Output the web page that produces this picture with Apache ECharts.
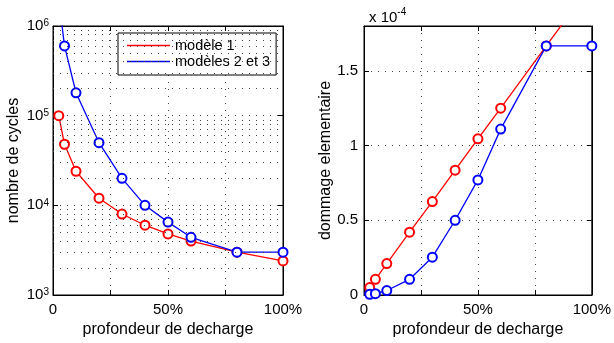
<!DOCTYPE html>
<html>
<head>
<meta charset="utf-8">
<script src="https://cdn.jsdelivr.net/npm/echarts@6/dist/echarts.min.js"></script>
<style>
html,body{margin:0;padding:0;background:#fff;}
#chart{width:614px;height:343px;}
</style>
</head>
<body>
<div id="chart"></div>
<script>
// ---- data ----
var depth = [2.5, 5, 10, 20, 30, 40, 50, 60, 80, 100];           // profondeur de decharge (%)
var cyclesModel1 = [100000, 48000, 24000, 12000, 8000, 6000, 4800, 4000, 3000, 2400];
var cyclesModel23 = [2000000, 600000, 180000, 50000, 20000, 10000, 6500, 4400, 3000, 3000];
var damageModel1 = [0.05, 0.105, 0.21, 0.42, 0.625, 0.835, 1.045, 1.25, 1.667, 2.08];   // x 1e-4
var damageModel23 = [0.005, 0.009, 0.03, 0.105, 0.253, 0.5, 0.77, 1.11, 1.667, 1.667]; // x 1e-4
var seriesNames = ['modèle 1', 'modèles 2 et 3'];
var xTickLabels = {0: '0', 50: '50%', 100: '100%'};
var logMinorTicks = [2000,3000,4000,5000,6000,7000,8000,9000,
                     20000,30000,40000,50000,60000,70000,80000,90000,
                     200000,300000,400000,500000,600000,700000,800000,900000];
var damageTicks = ['0', '0.5', '1', '1.5'];

var FONT = '"Liberation Sans", Arial, Helvetica, sans-serif';
var RED = '#ff0000', BLUE = '#0000ff';
var gridDot = {type: [1, 6], color: '#444', width: 1};

function pairs(xs, ys) { return xs.map(function (x, i) { return [x, ys[i]]; }); }

function xAxisBase(gi, pos, showLabel) {
  return {
    type: 'value', gridIndex: gi, position: pos, min: 0, max: 100, interval: 25,
    axisLine: {show: true, onZero: false, lineStyle: {color: '#000', width: 1}},
    axisTick: {show: true, inside: true, length: 5, lineStyle: {color: '#000'}},
    axisLabel: {
      show: showLabel, margin: 7, fontSize: 15, color: '#000', fontFamily: FONT,
      formatter: function (v) { return xTickLabels[v] !== undefined ? xTickLabels[v] : ''; }
    },
    splitLine: {show: showLabel, lineStyle: gridDot},
    name: showLabel ? 'profondeur de decharge' : '',
    nameLocation: 'middle', nameGap: 22,
    nameTextStyle: {fontSize: 16, color: '#000', fontFamily: FONT}
  };
}

var supRich = {
  b: {fontSize: 15, color: '#000', fontFamily: FONT, lineHeight: 15, padding: [7, 0, 7, 0]},
  e: {fontSize: 10, color: '#000', fontFamily: FONT, lineHeight: 10, verticalAlign: 'top'}
};

function logYAxis(pos, showLabel) {
  return {
    type: 'log', logBase: 10, gridIndex: 0, position: pos, min: 1000, max: 1000000,
    axisLine: {show: true, onZero: false, lineStyle: {color: '#000', width: 1}},
    axisTick: {show: true, inside: true, length: 5, lineStyle: {color: '#000'}},
    axisLabel: {
      show: showLabel, margin: 4, align: 'right',
      formatter: function (v) {
        var e = Math.round(Math.log(v) / Math.LN10);
        return '{b|10}{e|' + e + '}';
      },
      rich: supRich
    },
    splitLine: {show: showLabel, lineStyle: gridDot},
    name: showLabel ? 'nombre de cycles' : '',
    nameLocation: 'middle', nameGap: 31,
    nameTextStyle: {fontSize: 16, color: '#000', fontFamily: FONT}
  };
}

function linYAxis(pos, showLabel) {
  return {
    type: 'value', gridIndex: 1, position: pos, min: 0, max: 1.8, interval: 0.5,
    axisLine: {show: true, onZero: false, lineStyle: {color: '#000', width: 1}},
    axisTick: {show: true, inside: true, length: 5, lineStyle: {color: '#000'}},
    axisLabel: {
      show: showLabel, margin: 6, fontSize: 15, color: '#000', fontFamily: FONT,
      formatter: function (v) { return damageTicks[Math.round(v / 0.5)] || ''; }
    },
    splitLine: {show: showLabel, lineStyle: gridDot},
    name: showLabel ? 'dommage elementaire' : '',
    nameLocation: 'middle', nameGap: 30,
    nameTextStyle: {fontSize: 16, color: '#000', fontFamily: FONT}
  };
}

function lineSeries(name, color, xi, yi, data, extra) {
  var s = {
    name: name, type: 'line', xAxisIndex: xi, yAxisIndex: yi, data: data,
    symbol: 'emptyCircle', symbolSize: 9, clip: true,
    lineStyle: {color: color, width: 1.3},
    itemStyle: {color: color, borderColor: color, borderWidth: 1.3},
    emphasis: {disabled: true}
  };
  if (extra) for (var k in extra) s[k] = extra[k];
  return s;
}

var chart = echarts.init(document.getElementById('chart'), null, {renderer: 'canvas'});
chart.setOption({
  animation: false,
  backgroundColor: '#fff',
  textStyle: {fontFamily: FONT},
  title: {
    text: '{a|x 10}{e|-4}', left: 364, top: 2,
    textStyle: {
      fontWeight: 'normal',
      rich: {
        a: {fontSize: 15, fontWeight: 'normal', color: '#000', fontFamily: FONT, lineHeight: 15, padding: [7, 0, 0, 0]},
        e: {fontSize: 10, fontWeight: 'normal', color: '#000', fontFamily: FONT, lineHeight: 10, verticalAlign: 'top'}
      }
    }
  },
  grid: [
    {left: 53, top: 26, width: 230, height: 269, show: true, borderColor: '#000', borderWidth: 1, backgroundColor: '#fff', containLabel: false},
    {left: 364, top: 26, width: 231, height: 269, show: true, borderColor: '#000', borderWidth: 1, backgroundColor: '#fff', containLabel: false}
  ],
  legend: {
    data: seriesNames, left: 118, top: 33, orient: 'vertical',
    backgroundColor: '#fff', borderColor: '#000', borderWidth: 1,
    padding: [5, 6, 6, 9], itemGap: 1, itemWidth: 43, itemHeight: 1.5, icon: 'rect',
    itemStyle: {borderWidth: 0},
    textStyle: {fontSize: 14.5, color: '#000', fontFamily: FONT},
    selectedMode: false
  },
  xAxis: [xAxisBase(0, 'bottom', true), xAxisBase(0, 'top', false), xAxisBase(1, 'bottom', true), xAxisBase(1, 'top', false)],
  yAxis: [logYAxis('left', true), logYAxis('right', false), linYAxis('left', true), linYAxis('right', false)],
  series: [
    lineSeries(seriesNames[0], RED, 0, 0, pairs(depth, cyclesModel1), {
      markLine: {
        silent: true, symbol: 'none', label: {show: false}, animation: false,
        lineStyle: gridDot, emphasis: {disabled: true},
        data: logMinorTicks.map(function (v) { return {yAxis: v}; })
      }
    }),
    lineSeries(seriesNames[1], BLUE, 0, 0, pairs(depth, cyclesModel23)),
    lineSeries(seriesNames[0], RED, 2, 2, pairs(depth, damageModel1)),
    lineSeries(seriesNames[1], BLUE, 2, 2, pairs(depth, damageModel23))
  ]
});
</script>
</body>
</html>
